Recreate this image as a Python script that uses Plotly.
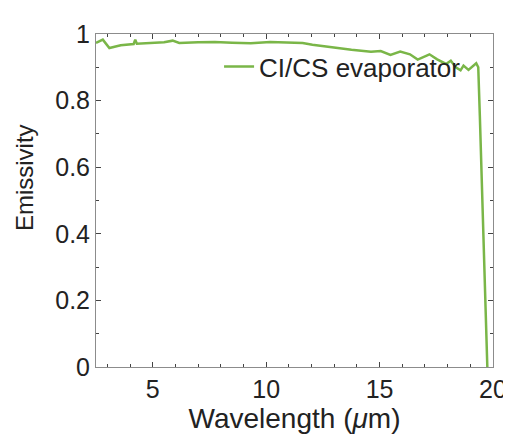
import plotly.graph_objects as go

wavelength = [2.5, 2.8, 3.09, 3.35, 3.59, 4.16, 4.23, 4.3, 5.0, 5.5, 5.88, 6.17, 7.0, 7.74, 8.5, 9.32, 10.18, 10.8, 11.32, 11.61, 12.04, 12.9, 13.76, 14.62,
              15.05, 15.48, 15.91, 16.34, 16.68, 17.2, 17.54, 17.93, 18.14, 18.36, 18.57, 18.7, 18.92, 19.26, 19.35,
              19.42, 19.5, 19.6, 19.68, 19.75]
emissivity = [0.973, 0.983, 0.958, 0.962, 0.966, 0.970, 0.983, 0.971, 0.973, 0.975, 0.980, 0.973, 0.975, 0.976, 0.974, 0.972, 0.976, 0.974, 0.973, 0.973, 0.968, 0.960, 0.953, 0.947,
              0.949, 0.937, 0.947, 0.939, 0.923, 0.939, 0.924, 0.910, 0.920, 0.900, 0.891, 0.905, 0.892, 0.912, 0.900,
              0.755, 0.56, 0.368, 0.18, 0.0]

x_ticks = [5, 10, 15, 20]
y_ticks = [0, 0.2, 0.4, 0.6, 0.8, 1]
series_name = "CI/CS evaporator"
x_title = "Wavelength (<i>μ</i>m)"
y_title = "Emissivity"

FONT = "Liberation Sans, Arial"
fig = go.Figure()
fig.add_trace(go.Scatter(x=wavelength, y=emissivity, mode="lines", name=series_name,
                         line=dict(color="#7ab648", width=2.5)))

axis_common = dict(showline=True, linecolor="#8c8c8c", linewidth=1, mirror="ticks",
                   ticks="inside", ticklen=5, tickcolor="#444", showgrid=False, zeroline=False,
                   tickfont=dict(family=FONT, size=25, color="#222"))
fig.update_layout(
    width=511, height=434,
    margin=dict(l=88, r=16, t=16, b=74.5),
    plot_bgcolor="white", paper_bgcolor="white",
    showlegend=True,
    legend=dict(x=0.31, y=0.902, xanchor="left", yanchor="middle", bgcolor="rgba(0,0,0,0)",
                font=dict(family=FONT, size=26, color="#222")),
    xaxis=dict(range=[2.5, 20], tickvals=x_ticks,
               minor=dict(dtick=1, ticks="inside", ticklen=3, tickcolor="#444"),
               title=dict(text=x_title, standoff=2,
                          font=dict(family=FONT, size=28, color="#222")),
               **axis_common),
    yaxis=dict(range=[0, 1], tickvals=y_ticks,
               minor=dict(dtick=0.1, ticks="inside", ticklen=3, tickcolor="#444"),
               **axis_common),
)
fig.add_annotation(text=y_title, textangle=-90, xref="paper", yref="paper",
                   x=(14 - 88) / 407, y=(360 - 164) / 344, xanchor="center", yanchor="middle",
                   showarrow=False, font=dict(family=FONT, size=24, color="#222"))
fig.write_html("out.html")
